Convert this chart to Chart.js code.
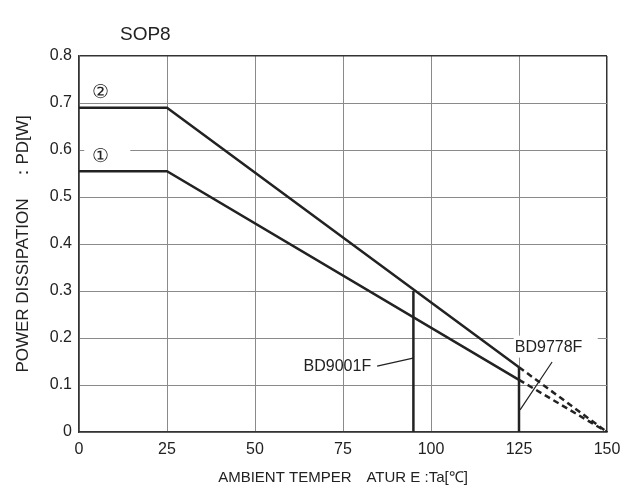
<!DOCTYPE html>
<html>
<head>
<meta charset="utf-8">
<script src="https://cdn.jsdelivr.net/npm/chart.js@4/dist/chart.umd.min.js"></script>
<style>
  html, body { margin: 0; padding: 0; background: #fff; }
  #wrap { width: 632px; height: 487px; }
</style>
</head>
<body>
<div id="wrap"><canvas id="pdChart" width="632" height="487"></canvas></div>
<script>
// derating curves
const tempSolid = [0, 25, 125];
const curve2 = [0.69, 0.69, 0.138];
const curve1 = [0.555, 0.555, 0.111];
const tempDash = [125, 150];
const curve2Dash = [0.138, 0];
const curve1Dash = [0.111, 0];
// vertical limits for the two parts
const bd9001Temp = 95;
const bd9001Pd = [0, 0.30];
const bd9778Temp = 125;
const bd9778Pd = [0, 0.138];

const xTicks = [0, 25, 50, 75, 100, 125, 150];
const yTicks = [0, 0.1, 0.2, 0.3, 0.4, 0.5, 0.6, 0.7, 0.8];

const pts = (xs, ys) => xs.map((x, i) => ({ x: x, y: ys[i] }));
const ink = "#222";
const font = "Liberation Sans, Arial, sans-serif";

const lineSet = (data, dashed) => ({
  data: data,
  borderColor: ink,
  borderWidth: 2.5,
  borderDash: dashed ? [6, 4] : [],
  pointRadius: 0,
  fill: false,
  tension: 0,
});

// text labels and leader lines (data coordinates)
const notes = {
  beforeDatasetsDraw(chart) {
    const { ctx, scales: { x, y } } = chart;
    ctx.save();
    ctx.fillStyle = "#fff";
    // gaps in the grid behind labels
    ctx.fillRect(x.getPixelForValue(1.5), y.getPixelForValue(0.615), 46, 18);
    ctx.fillRect(x.getPixelForValue(123.5), y.getPixelForValue(0.205), 84, 22);
    ctx.restore();
  },
  afterDatasetsDraw(chart) {
    const { ctx, scales: { x, y } } = chart;
    ctx.save();
    ctx.fillStyle = ink;
    ctx.strokeStyle = ink;
    ctx.textBaseline = "middle";
    ctx.font = "19px " + font;
    ctx.textAlign = "center";
    ctx.fillText("②", x.getPixelForValue(6), y.getPixelForValue(0.722));
    ctx.fillText("①", x.getPixelForValue(6), y.getPixelForValue(0.585));
    ctx.font = "16px " + font;
    ctx.textAlign = "right";
    ctx.fillText("BD9001F", x.getPixelForValue(83), y.getPixelForValue(0.14));
    ctx.textAlign = "left";
    ctx.fillText("BD9778F", x.getPixelForValue(123.8), y.getPixelForValue(0.179));
    ctx.lineWidth = 1.2;
    ctx.beginPath();
    ctx.moveTo(x.getPixelForValue(84.7), y.getPixelForValue(0.14));
    ctx.lineTo(x.getPixelForValue(94.9), y.getPixelForValue(0.157));
    ctx.moveTo(x.getPixelForValue(134.4), y.getPixelForValue(0.149));
    ctx.lineTo(x.getPixelForValue(125.3), y.getPixelForValue(0.047));
    ctx.stroke();
    // title
    ctx.font = "19px " + font;
    ctx.textAlign = "left";
    ctx.fillText("SOP8", 120, 35);
    ctx.restore();
  },
};

new Chart(document.getElementById("pdChart"), {
  type: "line",
  data: {
    datasets: [
      lineSet(pts(tempSolid, curve2), false),
      lineSet(pts(tempSolid, curve1), false),
      lineSet(pts(tempDash, curve2Dash), true),
      lineSet(pts(tempDash, curve1Dash), true),
      lineSet(pts([bd9001Temp, bd9001Temp], bd9001Pd), false),
      lineSet(pts([bd9778Temp, bd9778Temp], bd9778Pd), false),
    ],
  },
  options: {
    responsive: false,
    animation: false,
    layout: { padding: { top: 56, right: 25, left: 0, bottom: 0 } },
    plugins: { legend: { display: false }, tooltip: { enabled: false } },
    scales: {
      x: {
        type: "linear",
        min: 0,
        max: 150,
        afterBuildTicks: (s) => { s.ticks = xTicks.map((v) => ({ value: v })); },
        afterFit: (s) => { s.height = 55; },
        ticks: { color: ink, font: { family: font, size: 16 }, padding: 8, maxRotation: 0 },
        grid: {
          drawTicks: false,
          color: (c) => (c.tick && c.tick.value === 150 ? "#333" : "#8a8a8a"),
          lineWidth: (c) => (c.tick && c.tick.value === 150 ? 1.5 : 1),
        },
        border: { color: "#333", width: 1.5 },
        title: {
          display: true,
          text: "AMBIENT TEMPER\u3000ATUR E :Ta[\u2103]",
          color: ink,
          font: { family: font, size: 15 },
          padding: { top: 4, bottom: 0 },
        },
      },
      y: {
        min: 0,
        max: 0.8,
        afterBuildTicks: (s) => { s.ticks = yTicks.map((v) => ({ value: v })); },
        afterFit: (s) => { s.width = 79; },
        ticks: {
          color: ink,
          font: { family: font, size: 16 },
          padding: 7,
          callback: (v) => (v === 0 ? "0" : v.toFixed(1)),
        },
        grid: {
          drawTicks: false,
          color: (c) => (c.tick && c.tick.value === 0.8 ? "#333" : "#8a8a8a"),
          lineWidth: (c) => (c.tick && c.tick.value === 0.8 ? 1.5 : 1),
        },
        border: { color: "#333", width: 1.5 },
        title: {
          display: true,
          text: "POWER DISSIPATION\u3000\uff1aPD[W]",
          color: ink,
          font: { family: font, size: 17 },
          padding: { top: 13, bottom: 0 },
        },
      },
    },
  },
  plugins: [notes],
});
</script>
</body>
</html>
